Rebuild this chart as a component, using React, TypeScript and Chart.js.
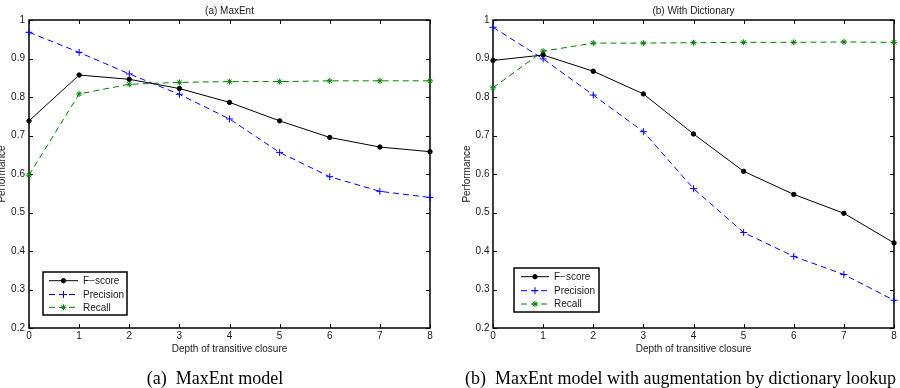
import React, { useEffect, useRef } from 'react';
import { Chart, registerables } from 'chart.js';
import { drawPoint } from 'chart.js/helpers';

Chart.register(...registerables);

// ---- data ----
const depth = [0, 1, 2, 3, 4, 5, 6, 7, 8];
const yTickValues = [0.2, 0.3, 0.4, 0.5, 0.6, 0.7, 0.8, 0.9, 1];
const seriesLabels = ['F\u2212score', 'Precision', 'Recall'];

const maxentF = [0.738, 0.857, 0.846, 0.822, 0.786, 0.738, 0.695, 0.67, 0.658];
const maxentP = [0.968, 0.916, 0.86, 0.807, 0.743, 0.656, 0.593, 0.555, 0.539];
const maxentR = [0.597, 0.808, 0.833, 0.838, 0.84, 0.84, 0.842, 0.842, 0.842];

const dictF = [0.895, 0.909, 0.867, 0.808, 0.704, 0.607, 0.547, 0.498, 0.421];
const dictP = [0.981, 0.899, 0.805, 0.71, 0.562, 0.448, 0.386, 0.339, 0.272];
const dictR = [0.824, 0.919, 0.94, 0.94, 0.941, 0.942, 0.942, 0.943, 0.942];

const panelTitles = ['(a) MaxEnt', '(b) With Dictionary'];
const xAxisTitle = 'Depth of transitive closure';
const yAxisTitle = 'Performance';
const captions = ['(a)\u2002MaxEnt model', '(b)\u2002MaxEnt model with augmentation by dictionary lookup'];

const FONT = "'Liberation Sans', Arial, Helvetica, sans-serif";
const TXT = '#1a1a1a';

const framePlugin = {
  id: 'matlabFrame',
  beforeDatasetsDraw(chart: any) {
    const { ctx, chartArea: a, scales } = chart;
    ctx.save();
    ctx.strokeStyle = '#000';
    ctx.lineWidth = 1;
    ctx.beginPath();
    for (const v of depth) {
      const px = Math.round(scales.x.getPixelForValue(v)) + 0.5;
      ctx.moveTo(px, a.bottom);
      ctx.lineTo(px, a.bottom - 4);
      ctx.moveTo(px, a.top);
      ctx.lineTo(px, a.top + 4);
    }
    for (const v of yTickValues) {
      const py = Math.round(scales.y.getPixelForValue(v)) + 0.5;
      ctx.moveTo(a.left, py);
      ctx.lineTo(a.left + 4, py);
      ctx.moveTo(a.right, py);
      ctx.lineTo(a.right - 4, py);
    }
    ctx.stroke();
    ctx.lineWidth = 1.5;
    ctx.strokeRect(a.left, a.top, a.right - a.left, a.bottom - a.top);
    ctx.restore();
  },
  afterDatasetsDraw(chart: any, _args: any, opts: any) {
    const { ctx } = chart;
    const L = opts.legend;
    if (!L) return;
    ctx.save();
    ctx.fillStyle = '#fff';
    ctx.fillRect(L.x, L.y, L.w, L.h);
    ctx.strokeStyle = '#000';
    ctx.lineWidth = 1.5;
    ctx.strokeRect(L.x, L.y, L.w, L.h);
    chart.data.datasets.forEach((ds: any, i: number) => {
      const y = L.y + L.rows[i];
      ctx.save();
      ctx.strokeStyle = ds.borderColor;
      ctx.lineWidth = ds.borderWidth;
      ctx.setLineDash(ds.borderDash || []);
      ctx.beginPath();
      ctx.moveTo(L.x + L.lineStart, y);
      ctx.lineTo(L.x + L.lineEnd, y);
      ctx.stroke();
      ctx.setLineDash([]);
      ctx.fillStyle = ds.pointBackgroundColor || ds.borderColor;
      drawPoint(ctx, { pointStyle: ds.pointStyle, radius: ds.pointRadius, rotation: 0, borderWidth: ds.pointBorderWidth }, L.x + (L.lineStart + L.lineEnd) / 2, y);
      ctx.restore();
      ctx.fillStyle = TXT;
      ctx.font = `10px ${FONT}`;
      ctx.textBaseline = 'middle';
      ctx.textAlign = 'left';
      ctx.fillText(ds.label, L.x + L.textX, y + 0.5);
    });
    ctx.restore();
  },
};

function buildConfig(p: any) {
  const pts = (arr: number[]) => depth.map((d, i) => ({ x: d, y: arr[i] }));
  const font = { family: FONT, size: 10, weight: 'normal' as const };
  return {
    type: 'line' as const,
    data: {
      datasets: [
        {
          label: seriesLabels[0], data: pts(p.f), borderColor: '#000000', backgroundColor: '#000000',
          pointBackgroundColor: '#000000', borderWidth: 1, pointStyle: 'circle', pointRadius: 2.2,
          pointBorderWidth: 1, clip: false, tension: 0,
        },
        {
          label: seriesLabels[1], data: pts(p.p), borderColor: '#0000ff', backgroundColor: '#0000ff',
          borderWidth: 1, borderDash: [6, 4], pointStyle: 'cross', pointRadius: 3.5,
          pointBorderWidth: 1, clip: false, tension: 0,
        },
        {
          label: seriesLabels[2], data: pts(p.r), borderColor: '#008000', backgroundColor: '#008000',
          borderWidth: 1, borderDash: [6, 4], pointStyle: 'star', pointRadius: 3,
          pointBorderWidth: 1, clip: false, tension: 0,
        },
      ],
    },
    options: {
      responsive: false,
      animation: false,
      devicePixelRatio: 1,
      events: [],
      layout: { padding: { left: 0, right: p.padRight, top: 0, bottom: 33 } },
      plugins: {
        legend: { display: false },
        tooltip: { enabled: false },
        title: {
          display: true, text: p.title, fullSize: false, font, color: TXT,
          padding: { top: 5, bottom: 3 },
        },
        matlabFrame: { legend: p.legend },
      },
      scales: {
        x: {
          type: 'linear', min: 0, max: 8,
          grid: { display: false, drawTicks: false },
          border: { display: false },
          ticks: { padding: 2, font, color: TXT, maxRotation: 0, autoSkip: false, callback: (v: any) => String(v) },
          afterBuildTicks: (s: any) => { s.ticks = depth.map((v) => ({ value: v })); },
          afterFit: (s: any) => { s.height = 27; },
          title: { display: true, text: xAxisTitle, font, color: TXT, padding: 0 },
        },
        y: {
          type: 'linear', min: 0.2, max: 1,
          grid: { display: false, drawTicks: false },
          border: { display: false },
          ticks: { padding: p.yTickPad, font, color: TXT, autoSkip: false, callback: (v: any) => String(v) },
          afterBuildTicks: (s: any) => { s.ticks = yTickValues.map((v) => ({ value: v })); },
          afterFit: (s: any) => { s.width = p.yWidth; },
          title: { display: true, text: yAxisTitle, font, color: TXT, padding: { top: p.yTitlePad, bottom: 0 } },
        },
      },
    },
    plugins: [framePlugin],
  };
}

const panels = [
  {
    title: panelTitles[0], f: maxentF, p: maxentP, r: maxentR,
    yWidth: 29, padRight: 20, yTickPad: 4, yTitlePad: -3.5,
    legend: { x: 43, y: 272, w: 84, h: 43, rows: [8.7, 22.5, 35.3], lineStart: 6, lineEnd: 35, textX: 40 },
  },
  {
    title: panelTitles[1], f: dictF, p: dictP, r: dictR,
    yWidth: 43, padRight: 6, yTickPad: 3.5, yTitlePad: 11,
    legend: { x: 64, y: 268, w: 85, h: 44, rows: [8.7, 22.7, 36], lineStart: 7, lineEnd: 35, textX: 40 },
  },
];

function Panel({ cfg, left }: { cfg: any; left: number }) {
  const ref = useRef<HTMLCanvasElement>(null);
  useEffect(() => {
    const chart = new Chart(ref.current as HTMLCanvasElement, buildConfig(cfg) as any);
    return () => chart.destroy();
  }, [cfg]);
  return (
    <canvas
      ref={ref}
      width={450}
      height={388}
      style={{ position: 'absolute', left, top: 0, width: 450, height: 388, display: 'block' }}
    />
  );
}

export default function App() {
  const capStyle: React.CSSProperties = {
    position: 'absolute',
    top: 369,
    transform: 'translateX(-50%)',
    whiteSpace: 'nowrap',
    fontFamily: "'Liberation Serif', 'Times New Roman', serif",
    fontSize: 18,
    lineHeight: '18px',
    color: '#000',
  };
  return (
    <div style={{ position: 'fixed', left: 0, top: 0, width: 900, height: 388, background: '#fff', overflow: 'hidden' }}>
      <Panel cfg={panels[0]} left={0} />
      <Panel cfg={panels[1]} left={450} />
      <div style={{ ...capStyle, left: 215 }}>{captions[0]}</div>
      <div style={{ ...capStyle, left: 680.5 }}>{captions[1]}</div>
    </div>
  );
}
